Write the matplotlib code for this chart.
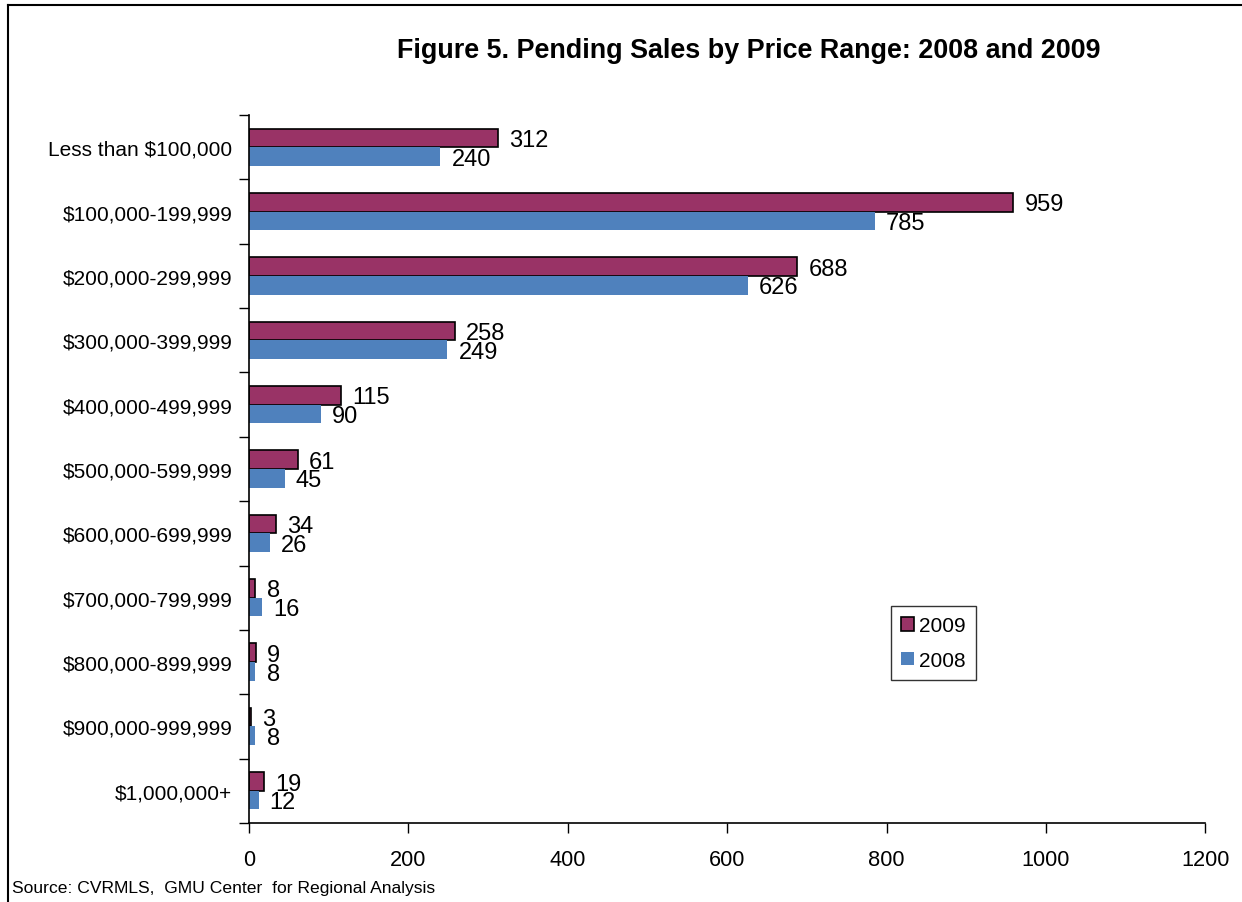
import matplotlib
matplotlib.use('Agg')
import matplotlib.pyplot as plt
from matplotlib.lines import Line2D
import numpy as np

# Data
categories = ["Less than $100,000", "$100,000-199,999", "$200,000-299,999",
              "$300,000-399,999", "$400,000-499,999", "$500,000-599,999",
              "$600,000-699,999", "$700,000-799,999", "$800,000-899,999",
              "$900,000-999,999", "$1,000,000+"]
sales_2009 = [312, 959, 688, 258, 115, 61, 34, 8, 9, 3, 19]
sales_2008 = [240, 785, 626, 249, 90, 45, 26, 16, 8, 8, 12]
x_ticks = [0, 200, 400, 600, 800, 1000, 1200]

plt.rcParams['font.family'] = ['Liberation Sans', 'DejaVu Sans']

fig = plt.figure(figsize=(12.42, 9.03), dpi=100)
ax = fig.add_axes([0.2005, 0.0875, 0.770, 0.784])

n = len(categories)
pos = np.arange(n)
bar_h = 0.29
ax.barh(pos - bar_h / 2, sales_2009, height=bar_h, color='#993366',
        edgecolor='black', linewidth=1.2, label='2009')
ax.barh(pos + bar_h / 2, sales_2008, height=bar_h, color='#4F81BD',
        linewidth=0, label='2008')

# Value labels
for i, (v9, v8) in enumerate(zip(sales_2009, sales_2008)):
    ax.annotate(str(v9), (v9, i - bar_h / 2), xytext=(8, -1.5), textcoords='offset points',
                va='center', ha='left', fontsize=17)
    ax.annotate(str(v8), (v8, i + bar_h / 2), xytext=(8, -1.5), textcoords='offset points',
                va='center', ha='left', fontsize=17)

ax.set_ylim(n - 0.5, -0.5)
ax.set_xlim(0, 1200)
ax.set_xticks(x_ticks)
ax.set_xticklabels([str(t) for t in x_ticks], fontsize=15.7)
ax.tick_params(axis='x', direction='out', length=7, width=1, pad=12)

# Y ticks at category boundaries, labels at centers
ax.set_yticks(np.arange(n + 1) - 0.5)
ax.set_yticklabels([])
ax.set_yticks(pos, minor=True)
ax.set_yticklabels(categories, minor=True, fontsize=15)
ax.tick_params(axis='y', which='major', direction='out', length=7, width=1)
ax.tick_params(axis='y', which='minor', length=0, pad=12)

for side in ['top', 'right']:
    ax.spines[side].set_visible(False)
for side in ['left', 'bottom']:
    ax.spines[side].set_linewidth(1.2)

lgd = ax.legend(loc='upper left', bbox_to_anchor=(0.7174, 0.3278),
                bbox_transform=fig.transFigure, borderaxespad=0, fontsize=15,
                frameon=True, fancybox=False, edgecolor='black', handlelength=0.6,
                handleheight=0.6, handletextpad=0.25, labelspacing=0.75,
                borderpad=0.5)
lgd.get_frame().set_linewidth(1.0)

fig.text(0.6025, 0.944, "Figure 5. Pending Sales by Price Range: 2008 and 2009",
         ha='center', va='center', fontsize=19.4, fontweight='bold')
fig.text(0.01, 0.016, "Source: CVRMLS,  GMU Center  for Regional Analysis",
         ha='left', va='center', fontsize=12.6)

# Outer frame (top and left visible)
fig.add_artist(Line2D([0.0065, 1.0], [0.9935, 0.9935], color='black', lw=1.5))
fig.add_artist(Line2D([0.0065, 0.0065], [0.0, 0.9935], color='black', lw=1.5))

fig.savefig('out.png', dpi=100)
